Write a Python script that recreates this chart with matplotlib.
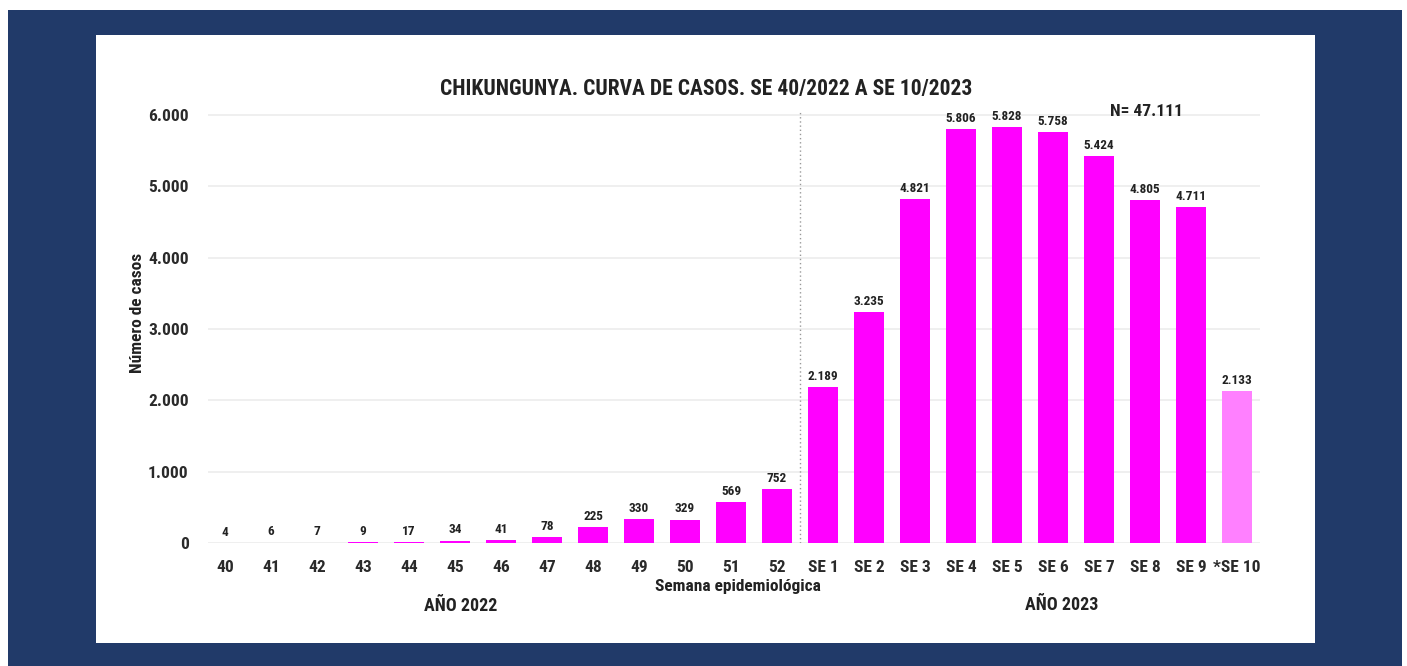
import matplotlib
matplotlib.use("Agg")
import matplotlib.pyplot as plt
from matplotlib import font_manager
from matplotlib.patches import Rectangle

# ---- data ----
weeks_2022 = ["40", "41", "42", "43", "44", "45", "46", "47", "48", "49", "50", "51", "52"]
cases_2022 = [4, 6, 7, 9, 17, 34, 41, 78, 225, 330, 329, 569, 752]
weeks_2023 = ["SE 1", "SE 2", "SE 3", "SE 4", "SE 5", "SE 6", "SE 7", "SE 8", "SE 9", "*SE 10"]
cases_2023 = [2189, 3235, 4821, 5806, 5828, 5758, 5424, 4805, 4711, 2133]
y_ticks = [0, 1000, 2000, 3000, 4000, 5000, 6000]
title = "CHIKUNGUNYA. CURVA DE CASOS. SE 40/2022 A SE 10/2023"
total_label = "N= 47.111"

# ---- font choice ----
avail = {f.name for f in font_manager.fontManager.ttflist}
font = "Liberation Sans"
for cand in ["Liberation Sans Narrow", "Arial Narrow", "Roboto Condensed", "DejaVu Sans Condensed"]:
    if cand in avail:
        font = cand
        break
plt.rcParams["font.family"] = [font, "DejaVu Sans"]
plt.rcParams["font.weight"] = "bold"

def fmt(v):
    return f"{v:,}".replace(",", ".")

labels = weeks_2022 + weeks_2023
values = cases_2022 + cases_2023
n = len(labels)
x = list(range(n))
colors = ["#ff00ff"] * (n - 1) + ["#ff80ff"]

W, H = 1407, 666
fig = plt.figure(figsize=(W / 100, H / 100), dpi=100, facecolor="white")

# navy frame and white panel
fig.patches.append(Rectangle((8 / W, 0), (1402 - 8) / W, (H - 10) / H,
                             transform=fig.transFigure, facecolor="#213a69",
                             edgecolor="none", zorder=-10))
fig.patches.append(Rectangle((96 / W, (H - 643) / H), (1315 - 96) / W, (643 - 35) / H,
                             transform=fig.transFigure, facecolor="white",
                             edgecolor="none", zorder=-9))

# axes geometry (pixels)
ax_left, ax_right = 208, 1260
y0_pix = 543
px_per_unit = (543 - 115) / 6000
ytop = 6040
ax_top_pix = y0_pix - ytop * px_per_unit
ax = fig.add_axes([ax_left / W, (H - y0_pix) / H, (ax_right - ax_left) / W,
                   (y0_pix - ax_top_pix) / H])
ax.set_facecolor("none")

step = 46.0
x_first = 225
xmin = (ax_left - x_first) / step
xmax = (ax_right - x_first) / step
ax.set_xlim(xmin, xmax)
ax.set_ylim(0, ytop)

ax.bar(x, values, width=0.65, color=colors, zorder=3)
for xi, v in zip(x, values):
    ax.annotate(fmt(v), (xi, v), xytext=(0, 3), textcoords="offset points",
                ha="center", va="bottom", fontsize=9.5, fontweight="bold",
                color="#222222", zorder=4)

ax.set_yticks(y_ticks)
ax.set_yticklabels([fmt(t) for t in y_ticks])
ax.set_xticks(x)
ax.set_xticklabels(labels)
ax.tick_params(axis="y", length=0, pad=14, labelsize=12.5, labelcolor="#2a2a2a")
ax.tick_params(axis="x", length=0, pad=12, labelsize=12.5, labelcolor="#2a2a2a")
for lab in ax.get_xticklabels() + ax.get_yticklabels():
    lab.set_fontweight("bold")
ax.grid(axis="y", color="#ececec", linewidth=1.2, zorder=0)
ax.grid(axis="x", visible=False)
for s in ax.spines.values():
    s.set_visible(False)

# separator between years
ax.axvline(12.5, ymin=0, ymax=1, color="#999999", linestyle=(0, (1, 2)),
           linewidth=1, zorder=2)

# texts
fig.text(706 / W, 1 - 89 / H, title, ha="center", va="center", fontsize=15.5,
         fontweight="bold", color="#222222")
fig.text(1146 / W, 1 - 112 / H, total_label, ha="center", va="center",
         fontsize=12.5, fontweight="bold", color="#222222")
fig.text(137 / W, 1 - 313 / H, "Número de casos", rotation=90, ha="center",
         va="center", fontsize=12.5, fontweight="bold", color="#222222")
fig.text(738 / W, 1 - 586 / H, "Semana epidemiológica", ha="center", va="center",
         fontsize=12.5, fontweight="bold", color="#222222")
fig.text(461 / W, 1 - 606 / H, "AÑO 2022", ha="center", va="center",
         fontsize=13, fontweight="bold", color="#222222")
fig.text(1062 / W, 1 - 605 / H, "AÑO 2023", ha="center", va="center",
         fontsize=13, fontweight="bold", color="#222222")

fig.savefig("out.png", dpi=100, facecolor="white")
